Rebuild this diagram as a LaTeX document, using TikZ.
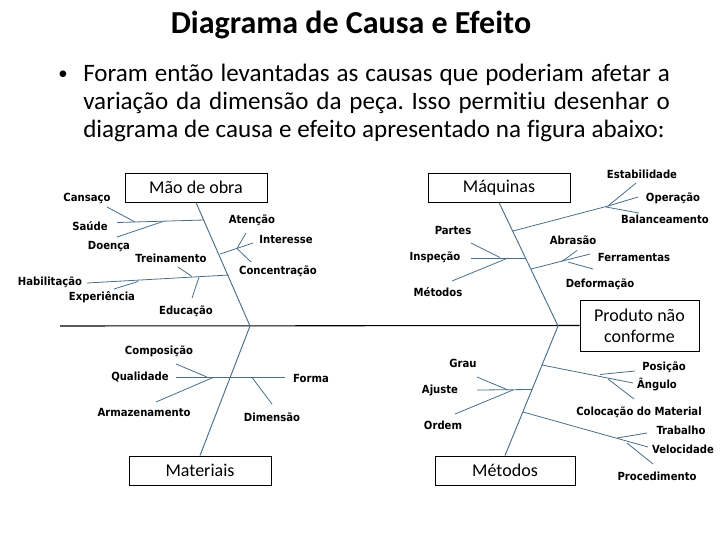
\documentclass[tikz,border=0pt]{standalone}
\usepackage{fontspec}
\setmainfont{Carlito}[Ligatures=NoCommon]
\newfontfamily\labfont{DejaVu Sans Condensed}
\frenchspacing
\begin{document}
\begin{tikzpicture}[x=0.75pt,y=-0.75pt,
  br/.style={draw={rgb,255:red,74;green,110;blue,138},line width=0.6pt},
  bone/.style={draw={rgb,255:red,74;green,110;blue,138},line width=0.7pt},
  lab/.style={inner sep=0pt,font=\labfont\bfseries\fontsize{8.4}{9}\selectfont},
  body/.style={anchor=west,inner sep=0pt,font=\fontsize{18.8}{22}\selectfont},
  catbox/.style={draw=black,line width=0.7pt,minimum width=106.5pt,minimum height=21.75pt,inner sep=0pt,font=\fontsize{13.5}{14}\selectfont}]
\useasboundingbox (0,0) rectangle (720,540);
% title and text
\node[font=\bfseries\fontsize{24}{28}\selectfont] (title) at (351,25) {Diagrama de Causa e Efeito};
\node[font=\fontsize{14}{16}\selectfont] (bul) at (63,75) {\textbullet};
\node[body] (l1) at (83,75) {\makebox[440pt][s]{Foram então levantadas as causas que poderiam afetar a}};
\node[body] (l2) at (83,103) {\makebox[440pt][s]{variação da dimensão da peça. Isso permitiu desenhar o}};
\node[body] (l3) at (83,131) {\makebox[436pt][s]{diagrama de causa e efeito apresentado na figura abaixo:}};
% category boxes
\node[catbox] (mo) at (196,187.5) {Mão de obra};
\node[catbox] (maq) at (499,187.5) {Máquinas};
\node[catbox] (mat) at (200,470.5) {Materiais};
\node[catbox,minimum width=105pt] (met) at (505,470.5) {Métodos};
\node[draw=black,line width=0.7pt,minimum width=89.25pt,minimum height=38.25pt,inner sep=0pt,align=center,font=\fontsize{13.5}{16}\selectfont] (eff) at (639.5,325.5) {Produto não\\conforme};
% spine
\coordinate (sL) at (60,326);
\coordinate (jL) at (250,326);
\coordinate (jR) at (558,326);
\draw[black,line width=0.8pt] (sL) -- (eff.west);
\draw[bone] (mo.south) -- (jL);
\draw[bone] (mat.north) -- (jL);
\draw[bone] (maq.south) -- (jR);
\draw[bone] (met.north) -- (jR);
% labels
\node[lab] (cansaco) at (87,198) {Cansaço};
\node[lab] (saude) at (90,226) {Saúde};
\node[lab] (doenca) at (109,247) {Doença};
\node[lab] (atencao) at (252,220) {Atenção};
\node[lab] (interesse) at (286,239) {Interesse};
\node[lab] (concent) at (278,271) {Concentração};
\node[lab] (trein) at (171,258) {Treinamento};
\node[lab] (habil) at (50,282) {Habilitação};
\node[lab] (exper) at (102,297) {Experiência};
\node[lab] (educ) at (186,311) {Educação};
\node[lab] (estab) at (642,174) {Estabilidade};
\node[lab] (operac) at (673,198) {Operação};
\node[lab] (balanc) at (665,219) {Balanceamento};
\node[lab] (partes) at (453,230) {Partes};
\node[lab] (insp) at (435,257) {Inspeção};
\node[lab] (metod) at (438,292) {Métodos};
\node[lab] (abras) at (573,240) {Abrasão};
\node[lab] (ferram) at (634,257) {Ferramentas};
\node[lab] (deform) at (600,284) {Deformação};
\node[lab] (compos) at (159,351) {Composição};
\node[lab] (qualid) at (140,377) {Qualidade};
\node[lab] (armaz) at (144,412) {Armazenamento};
\node[lab] (forma) at (311,378) {Forma};
\node[lab] (dimens) at (272,417) {Dimensão};
\node[lab] (grau) at (463,363) {Grau};
\node[lab] (ajuste) at (440,390) {Ajuste};
\node[lab] (ordem) at (443,425) {Ordem};
\node[lab] (posic) at (664,367) {Posição};
\node[lab] (angulo) at (657,385) {Ângulo};
\node[lab] (coloc) at (639,412) {Colocação do Material};
\node[lab] (trab) at (681,430) {Trabalho};
\node[lab] (veloc) at (683,449) {Velocidade};
\node[lab] (proced) at (657,476) {Procedimento};
% Mão de obra branches
\coordinate (a1) at (117,222.5); \coordinate (a2) at (204,220);
\coordinate (a3) at (107,207); \coordinate (a4) at (135,222);
\coordinate (a5) at (117,237); \coordinate (a6) at (163,221.5);
\draw[br] (a1) -- (a2); \draw[br] (a3) -- (a4); \draw[br] (a5) -- (a6);
\coordinate (b1) at (220,254); \coordinate (b2) at (253,243); \coordinate (b3) at (237,248.5);
\coordinate (b4) at (246,233); \coordinate (b5) at (251,262);
\draw[br] (b1) -- (b2); \draw[br] (b3) -- (b4); \draw[br] (b3) -- (b5);
\coordinate (c1) at (87,283); \coordinate (c2) at (229,275);
\coordinate (c3) at (178,267); \coordinate (c4) at (192,276.5);
\coordinate (c5) at (114,289); \coordinate (c6) at (138,281.5);
\coordinate (c7) at (199,277); \coordinate (c8) at (192,298);
\draw[br] (c1) -- (c2); \draw[br] (c3) -- (c4); \draw[br] (c5) -- (c6); \draw[br] (c7) -- (c8);
% Máquinas branches
\coordinate (d1) at (513,231); \coordinate (d2) at (608,206);
\coordinate (d3) at (636,183); \coordinate (d4) at (638,197); \coordinate (d5) at (606,207); \coordinate (d6) at (639,213);
\draw[br] (d1) -- (d2); \draw[br] (d2) -- (d3); \draw[br] (d2) -- (d4); \draw[br] (d5) -- (d6);
\coordinate (e1) at (471,258); \coordinate (e2) at (526,258);
\coordinate (e3) at (471,243); \coordinate (e4) at (500,257.5);
\coordinate (e5) at (452,281); \coordinate (e6) at (508,258);
\draw[br] (e1) -- (e2); \draw[br] (e3) -- (e4); \draw[br] (e5) -- (e6);
\coordinate (f1) at (531,269); \coordinate (f2) at (590,254);
\coordinate (f3) at (562,261.5); \coordinate (f4) at (577,250.5);
\coordinate (f5) at (568,262); \coordinate (f6) at (593,269);
\draw[br] (f1) -- (f2); \draw[br] (f3) -- (f4); \draw[br] (f5) -- (f6);
% Materiais branches
\coordinate (g1) at (176,377); \coordinate (g2) at (285,377);
\coordinate (g3) at (176,364); \coordinate (g4) at (207,377);
\coordinate (g5) at (156,402); \coordinate (g6) at (213,377.5);
\coordinate (g7) at (252,377.5); \coordinate (g8) at (272,404);
\draw[br] (g1) -- (g2); \draw[br] (g3) -- (g4); \draw[br] (g5) -- (g6); \draw[br] (g7) -- (g8);
% Métodos branches
\coordinate (h1) at (477,390); \coordinate (h2) at (532,389.5);
\coordinate (h3) at (477,377); \coordinate (h4) at (508,390);
\coordinate (h5) at (455,414); \coordinate (h6) at (513,390);
\draw[br] (h1) -- (h2); \draw[br] (h3) -- (h4); \draw[br] (h5) -- (h6);
\coordinate (i1) at (542,365); \coordinate (i2) at (633,383);
\coordinate (i3) at (600,374.5); \coordinate (i4) at (635,371);
\coordinate (i5) at (608,379); \coordinate (i6) at (634,399);
\draw[br] (i1) -- (i2); \draw[br] (i3) -- (i4); \draw[br] (i5) -- (i6);
\coordinate (k1) at (523,412); \coordinate (k2) at (648,447);
\coordinate (k3) at (617,438); \coordinate (k4) at (647,433);
\coordinate (k5) at (627,443); \coordinate (k6) at (653,464);
\draw[br] (k1) -- (k2); \draw[br] (k3) -- (k4); \draw[br] (k5) -- (k6);
\end{tikzpicture}
\end{document}
